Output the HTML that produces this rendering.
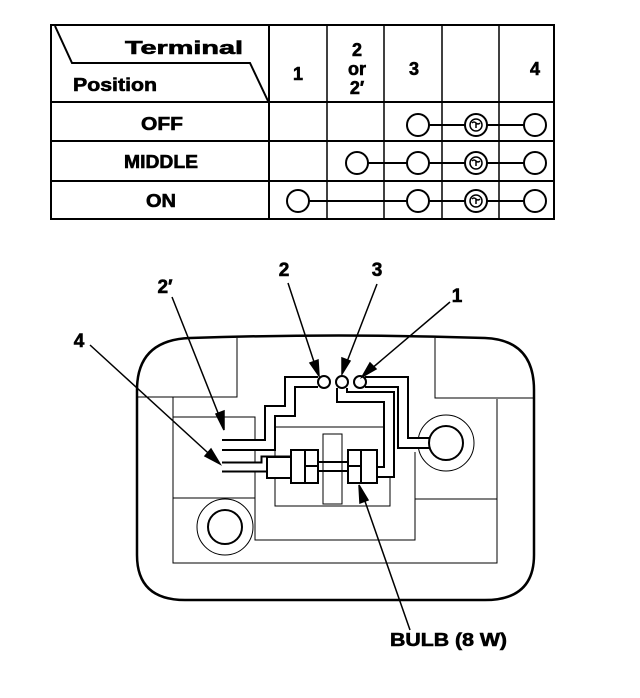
<!DOCTYPE html>
<html><head><style>
html,body{margin:0;padding:0;background:#fff;}
svg{display:block;}
text{font-family:"Liberation Sans",Arial,sans-serif;font-weight:bold;fill:#000;stroke:#000;stroke-width:0.6;}
</style></head><body>
<svg width="640" height="698" viewBox="0 0 640 698" xmlns="http://www.w3.org/2000/svg">
<!-- TABLE -->
<g stroke="#000" fill="none">
<rect x="51" y="25" width="503" height="194" stroke-width="2"/>
<line x1="51" y1="102" x2="554" y2="102" stroke-width="2"/>
<line x1="51" y1="141" x2="554" y2="141" stroke-width="2"/>
<line x1="51" y1="181" x2="554" y2="181" stroke-width="2"/>
<line x1="269" y1="25" x2="269" y2="219" stroke-width="2"/>
<line x1="327" y1="25" x2="327" y2="219" stroke-width="1.5"/>
<line x1="384" y1="25" x2="384" y2="219" stroke-width="1.5"/>
<line x1="442" y1="25" x2="442" y2="219" stroke-width="1.5"/>
<line x1="499" y1="25" x2="499" y2="219" stroke-width="1.5"/>
<polyline points="55,26 72,63 250,63 268,101" stroke-width="2"/>
</g>
<text x="125" y="54" font-size="18" textLength="118" lengthAdjust="spacingAndGlyphs">Terminal</text>
<text x="73" y="91" font-size="18" textLength="84" lengthAdjust="spacingAndGlyphs">Position</text>
<text x="298" y="80" font-size="18" text-anchor="middle">1</text>
<text x="357" y="56" font-size="18" text-anchor="middle">2</text>
<text x="357" y="75" font-size="18" text-anchor="middle">or</text>
<text x="357" y="94" font-size="18" text-anchor="middle">2′</text>
<text x="414" y="75" font-size="18" text-anchor="middle">3</text>
<text x="535" y="75" font-size="18" text-anchor="middle">4</text>
<text x="141" y="130" font-size="18" textLength="42" lengthAdjust="spacingAndGlyphs">OFF</text>
<text x="124" y="168" font-size="18" textLength="74" lengthAdjust="spacingAndGlyphs">MIDDLE</text>
<text x="146" y="207" font-size="18" textLength="30" lengthAdjust="spacingAndGlyphs">ON</text>
<g stroke="#000" stroke-width="2" fill="#fff">
<line x1="418" y1="125" x2="535" y2="125"/>
<line x1="357" y1="163" x2="535" y2="163"/>
<line x1="298" y1="201" x2="535" y2="201"/>
<circle cx="418" cy="125" r="11"/><circle cx="476" cy="125" r="11"/><circle cx="535" cy="125" r="11"/>
<circle cx="357" cy="163" r="11"/><circle cx="418" cy="163" r="11"/><circle cx="476" cy="163" r="11"/><circle cx="535" cy="163" r="11"/>
<circle cx="298" cy="201" r="11"/><circle cx="418" cy="201" r="11"/><circle cx="476" cy="201" r="11"/><circle cx="535" cy="201" r="11"/>
</g>
<g stroke="#000" stroke-width="1.5" fill="none">
<circle cx="476" cy="125" r="6"/><path d="M472,123 q2,-2 4,0 q2,2 4,0 M476,123 v5"/>
<circle cx="476" cy="163" r="6"/><path d="M472,161 q2,-2 4,0 q2,2 4,0 M476,161 v5"/>
<circle cx="476" cy="201" r="6"/><path d="M472,199 q2,-2 4,0 q2,2 4,0 M476,199 v5"/>
</g>

<!-- HOUSING -->
<path d="M190,338 Q340,333 485,338 Q534,340 534,390 L534,555 Q534,600 485,600 L185,600 Q137,600 137,555 L137,390 Q137,340 190,338 Z" fill="none" stroke="#000" stroke-width="2.5"/>
<g stroke="#000" stroke-width="1" fill="none">
<polyline points="137,397 237,397 237,338"/>
<polyline points="435,338 435,398 534,398"/>
<polyline points="173,397 173,563 497,563 497,399"/>
<polyline points="173,417 255,417 255,540 415,540 415,452"/>
<line x1="173" y1="498" x2="255" y2="498"/>
<line x1="415" y1="499" x2="497" y2="499"/>
<rect x="275" y="427" width="115" height="79"/>
<rect x="323" y="434" width="19" height="70"/>
<circle cx="225" cy="527" r="28"/>
<circle cx="446" cy="443" r="28"/>
</g>
<g stroke="#000" stroke-width="2" fill="#fff">
<circle cx="225" cy="527" r="17"/>
</g>
<!-- wires -->
<g fill="none" stroke-linejoin="miter">
<path d="M318,382 H290 V411 H270 V445 H222" stroke="#000" stroke-width="12"/>
<path d="M318,382 H290 V411 H270 V445 H222" stroke="#fff" stroke-width="8"/>
<path d="M292,461 H266 V467 H222" stroke="#000" stroke-width="11"/>
<path d="M292,461 H266 V467 H222" stroke="#fff" stroke-width="7"/>
<path d="M342,388 V397 H389 V472 H375" stroke="#000" stroke-width="12"/>
<path d="M342,388 V397 H389 V472 H375" stroke="#fff" stroke-width="8"/>
<path d="M365,382 H403 V443 H432" stroke="#000" stroke-width="12"/>
<path d="M365,382 H403 V443 H432" stroke="#fff" stroke-width="8"/>
</g>
<g stroke="#000" stroke-width="2" fill="#fff">
<circle cx="446" cy="443" r="17"/>
<circle cx="324" cy="382" r="6"/><circle cx="342" cy="382" r="6"/><circle cx="360" cy="382" r="6"/>
<rect x="267" y="457" width="24" height="21"/>
<rect x="291" y="450" width="27" height="33"/>
<rect x="348" y="450" width="29" height="33"/>
<line x1="318" y1="462" x2="348" y2="462"/>
<line x1="318" y1="471" x2="348" y2="471"/>
<line x1="305" y1="450" x2="305" y2="483"/>
<line x1="361" y1="450" x2="361" y2="483"/>
<line x1="305" y1="466" x2="318" y2="466"/>
<line x1="348" y1="466" x2="361" y2="466"/>
</g>
<!-- leaders -->
<g stroke="#000" stroke-width="1.5" fill="#000">
<line x1="172" y1="297" x2="224" y2="428"/>
<polygon points="224,430 216,414 224,411"/>
<line x1="90" y1="345" x2="218" y2="462"/>
<polygon points="220,464 205,456 211,449"/>
<line x1="288" y1="283" x2="318" y2="374"/>
<polygon points="319,376 310,363 318,360"/>
<line x1="377" y1="284" x2="343" y2="372"/>
<polygon points="342,374 342,358 350,361"/>
<line x1="450" y1="302" x2="364" y2="375"/>
<polygon points="362,377 370,363 376,369"/>
<line x1="410" y1="630" x2="360" y2="487"/>
<polygon points="359,485 368,500 360,503"/>
</g>
<text x="165" y="293" font-size="19" text-anchor="middle">2′</text>
<text x="79" y="347" font-size="19" text-anchor="middle">4</text>
<text x="284" y="276" font-size="19" text-anchor="middle">2</text>
<text x="377" y="276" font-size="19" text-anchor="middle">3</text>
<text x="457" y="302" font-size="19" text-anchor="middle">1</text>
<text x="390" y="646" font-size="18" textLength="117" lengthAdjust="spacingAndGlyphs">BULB (8 W)</text>
</svg>
</body></html>
